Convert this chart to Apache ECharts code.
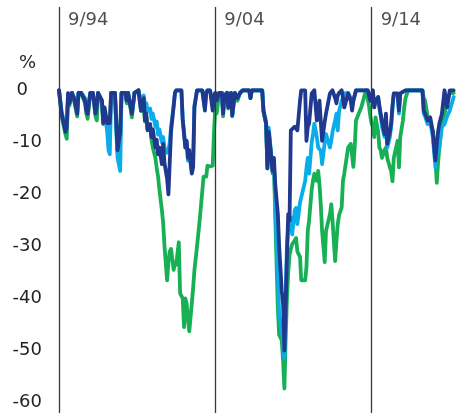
<!DOCTYPE html>
<html>
<head>
<meta charset="utf-8">
<script src="https://cdn.jsdelivr.net/npm/echarts@6/dist/echarts.min.js"></script>
<style>
html,body{margin:0;padding:0;background:#fff;}
#chart{width:463px;height:415px;}
</style>
</head>
<body>
<div id="chart"></div>
<script>
// Drawdown (%) readings, monthly sample dates
const dates = [
'1994-09','1994-11','1995-02','1995-03','1995-04','1995-05','1995-07','1995-09','1995-11','1995-12',
'1996-02','1996-05','1996-06','1996-07','1996-09','1996-11','1997-01','1997-02','1997-03','1997-06',
'1997-07','1997-08','1997-10','1997-11','1997-12','1998-01','1998-04','1998-05','1998-06','1998-08',
'1998-09','1998-12','1999-01','1999-02','1999-05','1999-07','1999-10','1999-11','1999-12','2000-02',
'2000-03','2000-04','2000-05','2000-07','2000-08','2000-09','2000-11','2000-12','2001-01','2001-02',
'2001-04','2001-05','2001-06','2001-08','2001-09','2001-10','2001-11','2002-01','2002-02','2002-03',
'2002-05','2002-06','2002-07','2002-08','2002-09','2002-10','2002-11','2002-12','2003-01','2003-03',
'2003-04','2003-05','2003-07','2003-09','2003-11','2003-12','2004-01','2004-02','2004-03','2004-05',
'2004-06','2004-07','2004-08','2004-09','2004-10','2004-12','2005-02','2005-03','2005-04','2005-06',
'2005-07','2005-09','2005-10','2005-12','2006-02','2006-04','2006-06','2006-11','2006-12','2007-01',
'2007-09','2007-10','2007-12','2008-01','2008-02','2008-04','2008-05','2008-06','2008-07','2008-09',
'2008-10','2008-12','2009-01','2009-02','2009-03','2009-04','2009-05','2009-06','2009-07','2009-08',
'2009-10','2009-11','2009-12','2010-02','2010-03','2010-06','2010-07','2010-08','2010-09','2010-11',
'2010-12','2011-01','2011-03','2011-04','2011-05','2011-06','2011-07','2011-09','2011-10','2012-01',
'2012-02','2012-03','2012-05','2012-06','2012-07','2012-08','2012-10','2012-11','2012-12','2013-03',
'2013-05','2013-06','2013-07','2013-08','2013-09','2013-12','2014-01','2014-04','2014-05','2014-06',
'2014-07','2014-08','2014-09','2014-10','2014-11','2014-12','2015-02','2015-03','2015-04','2015-05',
'2015-07','2015-08','2015-09','2015-11','2015-12','2016-01','2016-02','2016-05','2016-06','2016-07',
'2016-09','2016-10','2016-11','2017-01','2017-12','2018-01','2018-02','2018-04','2018-05','2018-06',
'2018-08','2018-09','2018-10','2018-11','2018-12','2019-01','2019-03','2019-05','2019-06','2019-07',
'2019-09','2019-12'
];
const navy = [
0,-4.5,-8,-7,-0.6,-2.5,-0.5,-2,-4.5,-0.5,
-0.5,-2,-3.9,-4.5,-0.5,-0.5,-4.5,-3,-0.5,-2,
-6.3,-3.3,-6.3,-6.3,-6.3,-0.5,-0.5,-6,-11.5,-8,
-0.5,-0.5,-2,-0.5,-4.5,-0.5,0,-2,-3.9,-1.5,
-5.8,-4.5,-7.7,-6.5,-9,-7.5,-11,-9.5,-12.3,-11,
-14.2,-10.3,-14,-17,-20,-14,-8,-3,-0.5,0,
0,0,0,-5.8,-8.5,-11,-9.7,-13,-11.5,-16,
-14.8,-3.3,0,0,0,0,-3.9,-0.5,0,0,
0,-3.9,-1,-0.5,-2,-0.5,-0.5,-4.5,-1,-0.5,
-3.3,-0.5,-4.8,-0.5,-1.5,-0.5,0,0,-1.5,0,
0,-3.9,-6.4,-15,-8,-13,-15.5,-13,-18,-23.8,
-30,-38.5,-41,-50,-42,-32,-23.8,-25,-7.7,-7.5,
-7,-7.3,-7.7,-2,0,0,-9.7,-7,-6.4,-0.6,
-0.3,0,-5.8,-4,-2,-6,-9.7,-6,-4.5,-0.6,
-0.3,0,-1.5,-2.5,-1,-0.5,0,-1.5,-3.3,-0.6,
-2,-3.9,-2,-1,0,0,0,0,0,0,
-1,-2,-1,0,-3.3,-2,-1.3,-3,-4.5,-6,
-8.4,-4.5,-10.3,-8,-6.4,-3,-0.6,-0.6,-3.9,-0.6,
-0.3,-0.2,0,0,0,-3.9,-4.5,-5.8,-5.5,-5.2,
-8,-11,-13.5,-10.3,-8,-6.4,-4.5,0,-1.5,-3.3,
0,0
];
const lightBlue = [
0,-4,-7.5,-7,-0.5,-2,-0.5,-1.5,-4,-0.5,
-0.5,-1.5,-3.5,-4,-0.5,-0.5,-4,-3,-0.5,-2,
-6,-4,-8,-11.5,-12.3,-0.5,-0.5,-8,-13,-15.5,
-0.5,-0.5,-2,-0.5,-4.5,-0.5,0,-1,-1.5,-1,
-3,-2.5,-4,-3.5,-5.5,-4.5,-7,-6,-8.5,-7.5,
-10,-9,-11,-12,-11.5,-10,-7,-3,-0.5,0,
0,0,0,-5.5,-8,-11,-10,-13.5,-12,-15.5,
-14,-3,0,0,0,0,-3.5,-0.5,0,0,
0,-3,-1,-0.5,-2,-0.5,-0.5,-4.5,-1,-0.5,
-3,-0.5,-4.8,-0.5,-1.5,-0.5,0,0,-1.5,0,
0,-3.9,-6,-14.5,-7.2,-12.5,-15.5,-13.5,-22,-35,
-43,-46,-48,-51.5,-40,-30,-26.5,-25.5,-24.5,-27.7,
-23,-22.6,-25.7,-21.5,-20.6,-17.4,-15,-13,-16,-10,
-8.4,-6.4,-9,-11,-11.3,-11.6,-14.2,-10,-8.4,-11,
-9.7,-8,-5.8,-4.5,-7.7,-4,-2,-1.5,-0.6,-0.5,
-1.5,-3,-2,-1,0,0,0,0,0,0,
-1,-2,-2,-0.5,-3.3,-2,-1.3,-3.5,-5,-7,
-9,-5,-11,-9,-7,-3.5,-0.6,-1,-4.5,-0.6,
-0.3,-0.2,0,0,0,-4.5,-5,-6.5,-6.2,-6,
-9,-12,-14.8,-12.5,-11.5,-11,-7,-6.5,-6.4,-5,
-3.9,-1.3
];
const green = [
0,-5,-8.5,-9.3,-1,-3,-0.5,-2.5,-5,-0.5,
-0.5,-2.5,-4.5,-5.5,-0.5,-0.5,-5,-5.8,-0.5,-2.5,
-6.5,-4,-7,-7,-7,-0.5,-0.5,-6.5,-12,-9,
-0.5,-0.5,-2.5,-0.5,-5.2,-0.5,0,-2,-4,-2,
-6,-5,-7.5,-7,-9.5,-11,-13,-15,-16.5,-19,
-23,-25.5,-30,-36.5,-33,-31,-30.5,-34.5,-33,-33.5,
-29.2,-39,-39.5,-40,-45.5,-40,-41,-44,-46.3,-41,
-38,-34.6,-30,-25,-19.4,-16.6,-16.6,-16.6,-14.5,-14.6,
-14.8,-14.5,-8,-3,-4.5,-0.5,-0.5,-5,-1,-0.5,
-3.5,-0.5,-5,-0.5,-2,-0.5,0,0,-1.5,0,
0,-4.2,-6.5,-15,-8,-13,-16,-14,-24,-42,
-47,-48,-52,-57.3,-48,-40,-35,-31.6,-30.5,-29.6,
-28.8,-28.4,-31,-32,-36.5,-36.5,-34,-27,-25,-19,
-17.4,-16,-17.4,-15.5,-18,-21.9,-27,-33,-27,-23.8,
-21.9,-25,-32.8,-29,-25.7,-24,-22.5,-17.3,-16,-11,
-10.3,-12.5,-14.7,-11,-5.8,-3.9,-3.3,-0.6,0,0,
-3,-5,-6.4,-7,-9,-5.2,-8,-11,-11.5,-13,
-11.5,-11,-13,-14.8,-15.5,-17.5,-13,-9.7,-14.8,-9,
-5.8,-3.3,-1.5,0,0,-1.5,-2,-5,-5.8,-6.5,
-7.7,-10,-13.5,-17.8,-14,-11,-5.8,-4.5,-3.3,-2,
-0.6,-0.5
];
// vertical reference lines and their labels
const refDates = ['1994-09-01','2004-09-01','2014-09-01'];
const refLabels = ['9/94','9/04','9/14'];
const yLabelValues = [0,-10,-20,-30,-40,-50,-60];

const FONT = '"DejaVu Sans", Arial, sans-serif';
const TXT = '#231f20';
const LABEL_Y = 13.5; // y-level (axis units) at which the date labels sit

function pairs(vals){ return dates.map((d,i)=>[d + '-01', vals[i]]); }

const chart = echarts.init(document.getElementById('chart'), null, {renderer:'canvas'});
chart.setOption({
  animation:false,
  backgroundColor:'#ffffff',
  title:{
    text:'%', left:14, top:49,
    textStyle:{fontFamily:FONT, fontSize:18, fontWeight:'normal', color:TXT}
  },
  grid:{left:59, top:7, width:396, height:406, containLabel:false},
  xAxis:{
    type:'time', min:'1994-09-01', max:'2020-01-01',
    axisLine:{show:false}, axisTick:{show:false}, axisLabel:{show:false}, splitLine:{show:false}
  },
  yAxis:{
    type:'value', min:-62, max:16, interval:2,
    axisLine:{show:false}, axisTick:{show:false}, splitLine:{show:false},
    axisLabel:{
      margin:17, fontFamily:FONT, fontSize:18, color:TXT, align:'right',
      formatter:function(v){
        if(yLabelValues.indexOf(v) < 0) return '';
        return v === 0 ? '{z|0}' : String(v);
      },
      rich:{z:{fontFamily:FONT, fontSize:18, color:TXT, padding:[0,14,0,0]}}
    }
  },
  series:[
    {
      name:'Green', type:'line', data:pairs(green), showSymbol:false, z:2,
      lineStyle:{color:'#17b055', width:3.8, join:'round', cap:'round'}, itemStyle:{color:'#17b055'}
    },
    {
      name:'Light blue', type:'line', data:pairs(lightBlue), showSymbol:false, z:3,
      lineStyle:{color:'#0aadea', width:3.8, join:'round', cap:'round'}, itemStyle:{color:'#0aadea'}
    },
    {
      name:'Navy', type:'line', data:pairs(navy), showSymbol:false, z:4,
      lineStyle:{color:'#20398f', width:3.8, join:'round', cap:'round'}, itemStyle:{color:'#20398f'}
    },
    {
      name:'refs', type:'scatter', z:5, silent:true, symbolSize:0,
      data:refDates.map((d,i)=>({value:[d, LABEL_Y], label:{formatter:refLabels[i]}})),
      label:{show:true, position:'right', distance:9, fontFamily:FONT, fontSize:18, color:TXT},
      markLine:{
        silent:true, symbol:'none', animation:false,
        label:{show:false},
        lineStyle:{color:'#3a3a3a', width:1.3, type:'solid'},
        data:refDates.map(d=>({xAxis:d}))
      }
    }
  ]
});
</script>
</body>
</html>
